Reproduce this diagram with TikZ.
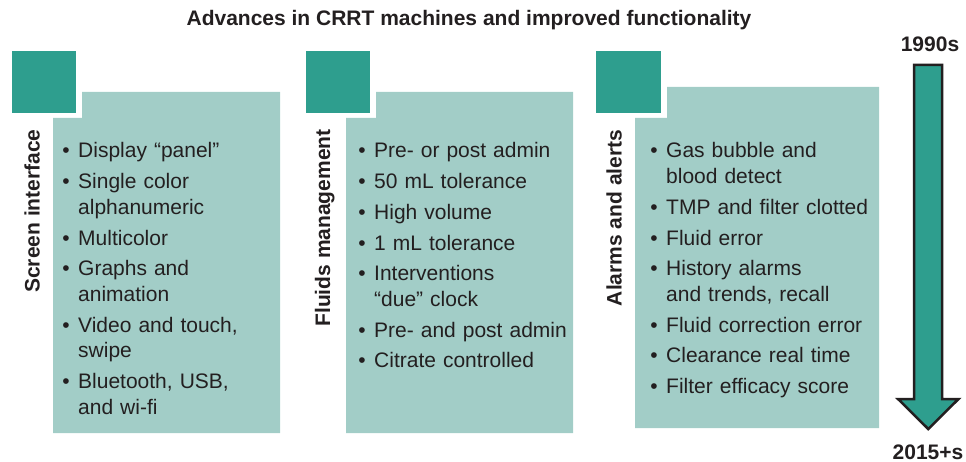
\documentclass[tikz,border=0pt]{standalone}
\usepackage{fontspec}
\setmainfont{Liberation Sans}
\definecolor{teal}{HTML}{2E9E8E}
\definecolor{paleteal}{HTML}{A2CDC7}
\definecolor{ink}{HTML}{231F20}
% bullet hanging to the left of the item text
\newcommand\bitem{\leavevmode\llap{\textbullet\hspace{8.5pt}}}
% gap between two list items
\newcommand\nxt{\par\vspace{5pt}}
\begin{document}
\begin{tikzpicture}[x=1pt,y=-1pt,
  every node/.style={text=ink,inner sep=0pt},
  bigtext/.style={font=\fontsize{21}{25.7}\selectfont},
  boldtext/.style={font=\fontsize{21}{24.5}\selectfont\bfseries},
  listtext/.style={bigtext,anchor=base west,text width=230pt,align=left},
  sidelabel/.style={boldtext,rotate=90,anchor=base},
  tab/.style={fill=teal},
  panel/.style={fill=paleteal}]
\useasboundingbox (0,0) rectangle (966,462);

% title
\node[boldtext,anchor=base] (title) at (469,26) {Advances in CRRT machines and improved functionality};

% tabs and panels
\fill[tab] (12,51) rectangle (76,113);
\fill[panel] (53,118) -- (82,118) -- (82,92) -- (280,92) -- (280,433) -- (53,433) -- cycle;
\fill[tab] (306,51) rectangle (370,113);
\fill[panel] (346,118) -- (376,118) -- (376,92) -- (573,92) -- (573,433) -- (346,433) -- cycle;
\fill[tab] (596,51) rectangle (661,113);
\fill[panel] (635,118) -- (667,118) -- (667,87) -- (879,87) -- (879,428) -- (635,428) -- cycle;

% side labels
\node[sidelabel] (lab1) at (39.5,211) {Screen interface};
\node[sidelabel] (lab2) at (330,228) {Fluids management};
\node[sidelabel] (lab3) at (621.5,218) {Alarms and alerts};

% lists
\node[listtext] (list1) at (78,158) {%
\bitem Display “panel”\nxt
\bitem Single color\\alphanumeric\nxt
\bitem Multicolor\nxt
\bitem Graphs and\\animation\nxt
\bitem Video and touch,\\swipe\nxt
\bitem Bluetooth, USB,\\and wi-fi};

\node[listtext] (list2) at (374,158) {%
\bitem Pre- or post admin\nxt
\bitem 50 mL tolerance\nxt
\bitem High volume\nxt
\bitem 1 mL tolerance\nxt
\bitem Interventions\\“due” clock\nxt
\bitem Pre- and post admin\nxt
\bitem Citrate controlled};

\node[listtext] (list3) at (666,158) {%
\bitem Gas bubble and\\blood detect\nxt
\bitem TMP and filter clotted\nxt
\bitem Fluid error\nxt
\bitem History alarms\\and trends, recall\nxt
\bitem Fluid correction error\nxt
\bitem Clearance real time\nxt
\bitem Filter efficacy score};

% timeline arrow
\node[boldtext,anchor=base] (start) at (930,52) {1990s};
\node[boldtext,anchor=base] (finish) at (928,459) {2015+s};
\filldraw[fill=teal,draw=ink,line width=2.5pt,miter limit=10]
  (914,65) -- (942,65) -- (942,399) -- (958.5,399) -- (928.25,429)
  -- (898,399) -- (914,399) -- cycle;
\end{tikzpicture}
\end{document}
